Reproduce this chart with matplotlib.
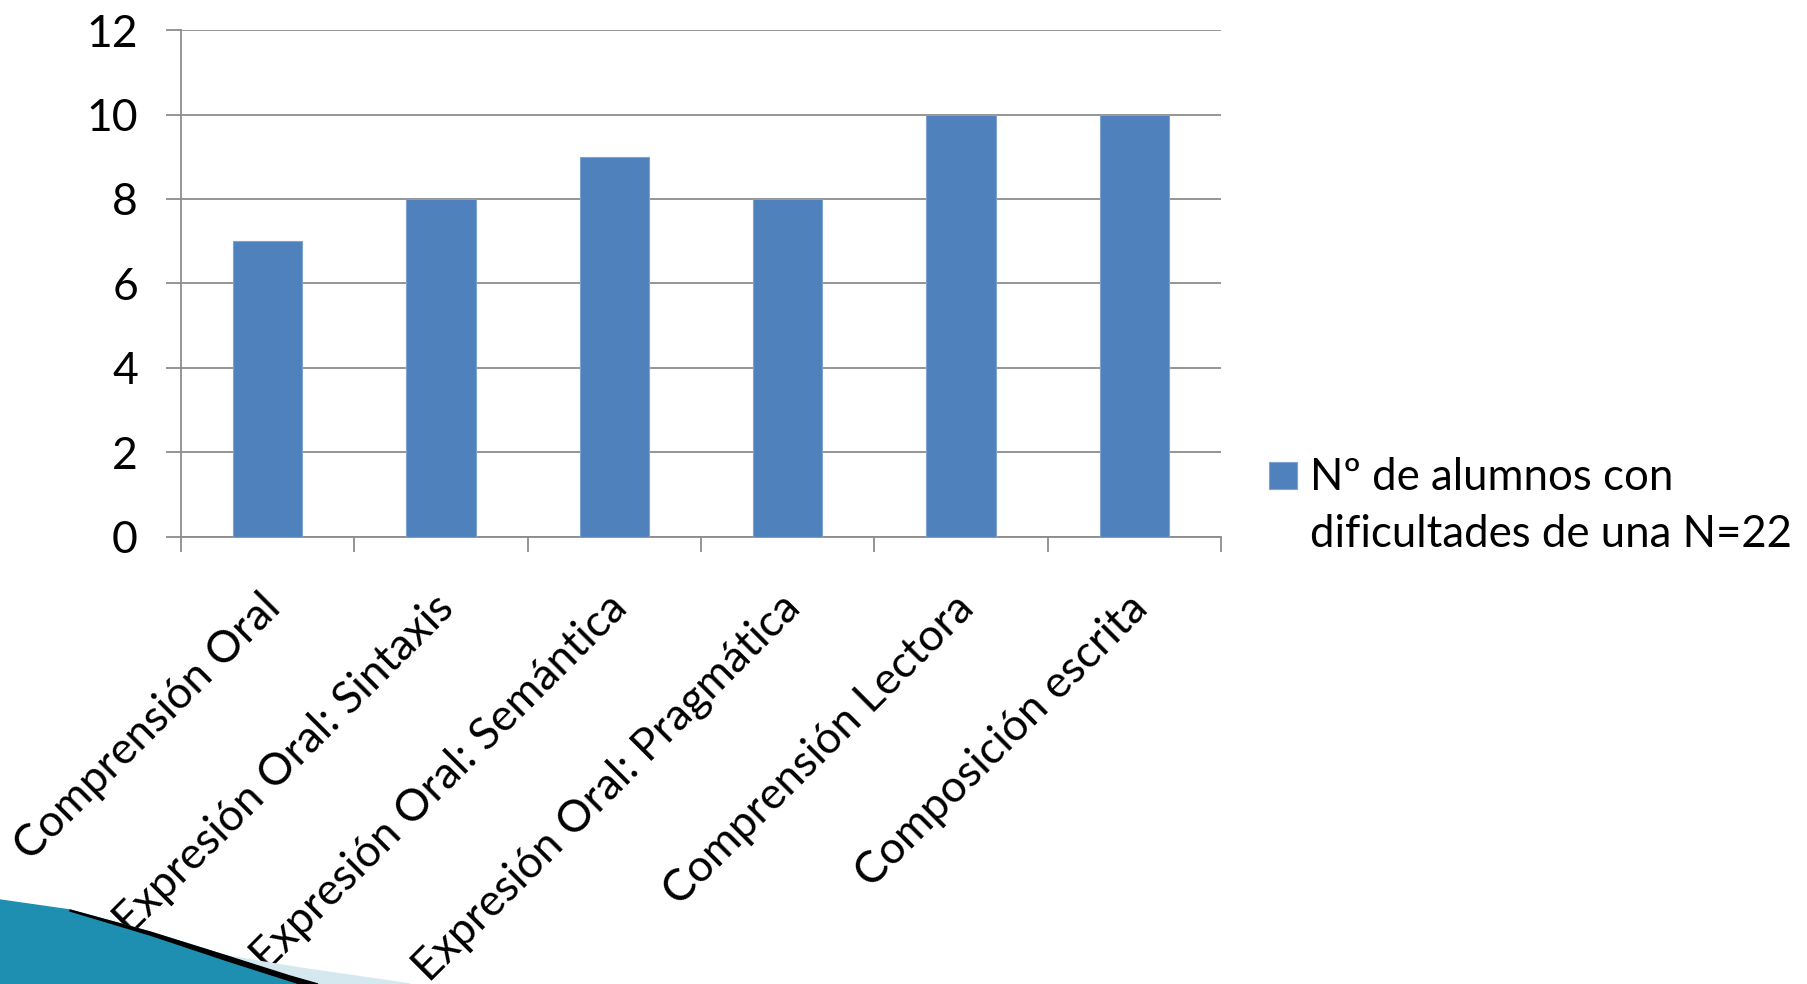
import numpy as np
import matplotlib
matplotlib.use("Agg")
import matplotlib.pyplot as plt
from matplotlib.patches import Polygon, Rectangle
from matplotlib.transforms import ScaledTranslation

# data
categorias = ["Comprensión Oral", "Expresión Oral: Sintaxis", "Expresión Oral: Semántica",
              "Expresión Oral: Pragmática", "Comprensión Lectora", "Composición escrita"]
valores = [7, 8, 9, 8, 10, 10]
serie = "Nº de alumnos con\ndificultades de una N=22"
y_ticks = [0, 2, 4, 6, 8, 10, 12]

plt.rcParams['font.family'] = ['Lato', 'DejaVu Sans']
grid_col = "#8c8c8c"
bar_col = "#4F81BD"

fig = plt.figure(figsize=(18.08, 9.84), dpi=100)
ax = fig.add_axes([0.1001, 0.4543, 0.5752, 0.5152])

x = np.arange(len(categorias))
ax.bar(x, valores, width=0.4, color=bar_col, edgecolor="#7FA3D1", linewidth=0.8, zorder=3)

ax.set_xlim(-0.5, len(categorias) - 0.5)
ax.set_ylim(0, 12)
ax.set_yticks(y_ticks)
ax.yaxis.grid(True, color=grid_col, linewidth=1.3, zorder=0)

for s in ["top", "right"]:
    ax.spines[s].set_visible(False)
for s in ["left", "bottom"]:
    ax.spines[s].set_color(grid_col)
    ax.spines[s].set_linewidth(1.3)

# category separators as ticks
ax.set_xticks(np.arange(len(categorias) + 1) - 0.5, minor=True)
ax.tick_params(axis="x", which="minor", length=11, width=1.3, color=grid_col)
ax.set_xticks(x)
ax.set_xticklabels(categorias, rotation=45, ha="right", rotation_mode="anchor",
                   fontsize=32)
ax.tick_params(axis="x", which="major", length=0, pad=36)
shift = ScaledTranslation(-8 / 100, 0, fig.dpi_scale_trans)
for lbl in ax.get_xticklabels():
    lbl.set_transform(lbl.get_transform() + shift)
ax.tick_params(axis="y", length=11, width=1.3, color=grid_col, labelsize=32, pad=20)

# legend (drawn by hand to match the two-line layout)
fig.patches.append(Rectangle((1269 / 1808, 1 - 489 / 984), 28 / 1808, 27 / 984,
                             transform=fig.transFigure, facecolor=bar_col,
                             edgecolor="#7FA3D1", linewidth=0.8))
fig.text(1310 / 1808, 1 - 457 / 984, serie, fontsize=31.5, va="top", ha="left",
         linespacing=1.5)

# decorative swoosh bottom-left
W, H = 1808, 984
def fpts(pts):
    return [(px / W, 1 - py / H) for px, py in pts]

fig.patches.append(Polygon(fpts([(0, 984), (0, 925), (160, 945), (300, 968), (410, 984)]),
                           closed=True, transform=fig.transFigure, color="#d5e8f0", zorder=0))
fig.patches.append(Polygon(fpts([(0, 984), (0, 900), (70, 910), (150, 932), (230, 957), (290, 978), (305, 984)]),
                           closed=True, transform=fig.transFigure, color="#1e8fb0", zorder=1))
fig.patches.append(Polygon(fpts([(70, 910), (150, 932), (230, 957), (290, 976), (318, 984),
                                 (300, 984), (228, 961), (150, 935), (70, 911)]),
                           closed=True, transform=fig.transFigure, color="black", zorder=2))

fig.savefig("out.png", dpi=100)
